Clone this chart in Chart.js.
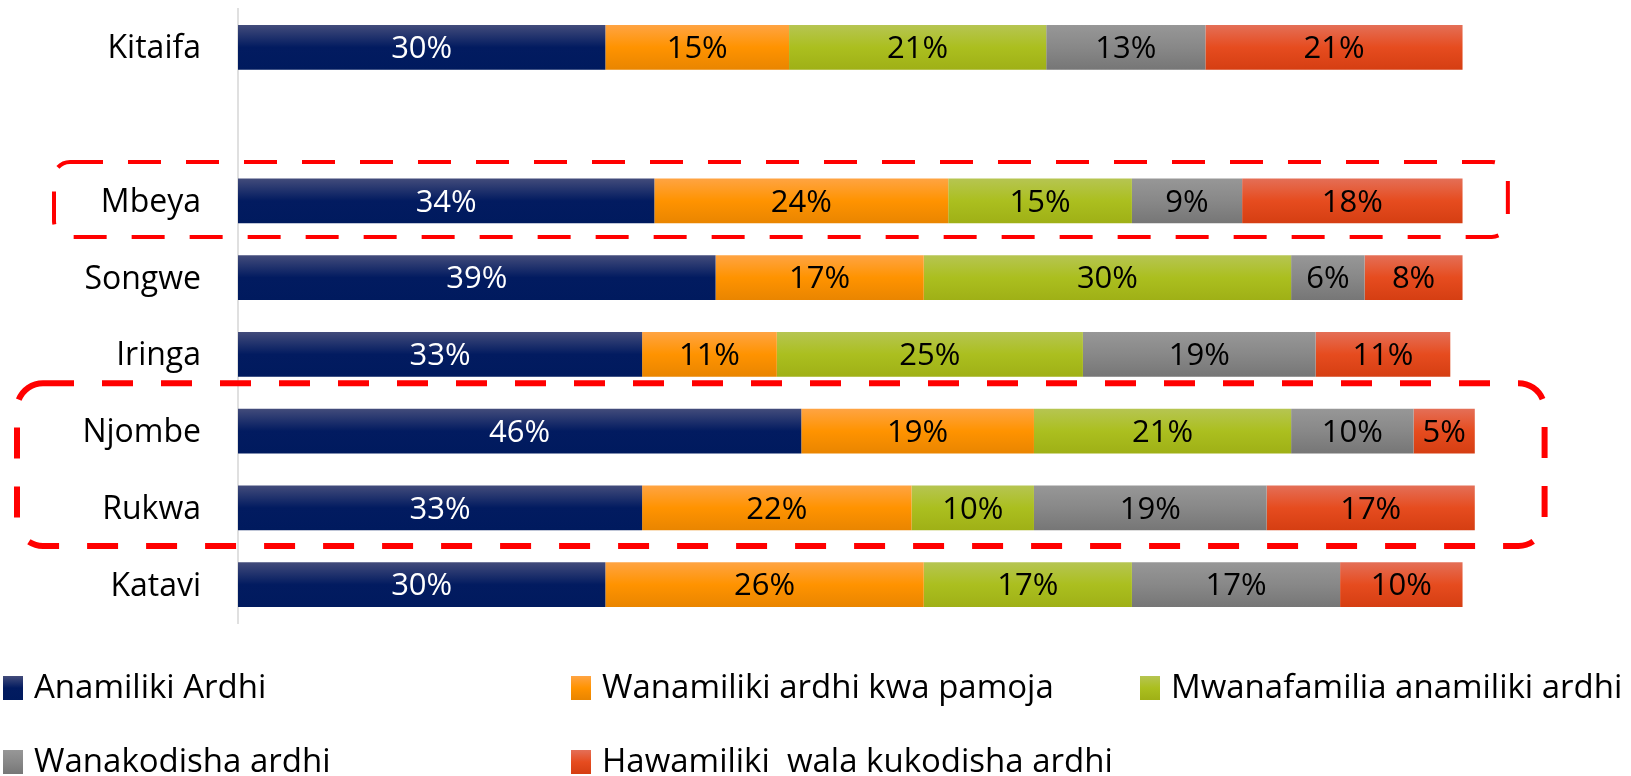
<!DOCTYPE html>
<html>
<head>
<meta charset="utf-8">
<script src="https://cdn.jsdelivr.net/npm/chart.js@4"></script>
<style>
  html, body { margin: 0; padding: 0; background: #fff; }
  #wrap { width: 1631px; height: 776px; position: relative; }
</style>
</head>
<body>
<div id="wrap"><canvas id="landChart"></canvas></div>
<script>
// Data (asilimia)
const categories = ['Kitaifa', '', 'Mbeya', 'Songwe', 'Iringa', 'Njombe', 'Rukwa', 'Katavi'];
const anamiliki    = [30, null, 34, 39, 33, 46, 33, 30];
const pamoja       = [15, null, 24, 17, 11, 19, 22, 26];
const mwanafamilia = [21, null, 15, 30, 25, 21, 10, 17];
const wanakodisha  = [13, null,  9,  6, 19, 10, 19, 17];
const hawamiliki   = [21, null, 18,  8, 11,  5, 17, 10];
const seriesNames = [
  'Anamiliki Ardhi',
  'Wanamiliki ardhi kwa pamoja',
  'Mwanafamilia anamiliki ardhi',
  'Wanakodisha ardhi',
  'Hawamiliki  wala kukodisha ardhi'
];

const fontFamily = "'Open Sans', sans-serif";
Chart.defaults.font.family = fontFamily;
Chart.defaults.color = '#000';

// gradient stops (top, middle, bottom) for each series
const gradients = [
  ['#434c7b', '#021b60', '#001a5e'],
  ['#ffa443', '#ff9300', '#e98500'],
  ['#b6c552', '#abbf1f', '#9fb016'],
  ['#979797', '#888888', '#767676'],
  ['#e46f57', '#e64c1f', '#d53e12']
];
const labelColors = ['#fff', '#000', '#000', '#000', '#000'];
const barPct = 0.586;

function barFill(stops) {
  return (ctx) => {
    const chart = ctx.chart;
    if (!chart.chartArea) return stops[1];
    const y = chart.scales.y.getPixelForValue(ctx.dataIndex);
    const half = chart.scales.y.height / categories.length * barPct / 2;
    const g = chart.ctx.createLinearGradient(0, y - half, 0, y + half);
    g.addColorStop(0, stops[0]);
    g.addColorStop(0.5, stops[1]);
    g.addColorStop(1, stops[2]);
    return g;
  };
}

const seriesData = [anamiliki, pamoja, mwanafamilia, wanakodisha, hawamiliki];

// Etiketi za asilimia ndani ya baa
const valueLabels = {
  id: 'valueLabels',
  afterDatasetsDraw(chart) {
    const c = chart.ctx;
    c.save();
    c.font = '31px ' + fontFamily;
    c.textAlign = 'center';
    c.textBaseline = 'middle';
    chart.data.datasets.forEach((ds, i) => {
      chart.getDatasetMeta(i).data.forEach((bar, j) => {
        if (ds.data[j] == null) return;
        const p = bar.getProps(['x', 'y', 'base'], true);
        c.fillStyle = labelColors[i];
        c.fillText(ds.data[j] + '%', (p.x + p.base) / 2, p.y + 2);
      });
    });
    c.restore();
  }
};

// Visanduku vyekundu vya mistari
const boxes = [
  { from: 2, to: 2, left: 54, right: 103.7, top: 39, bottom: 36, width: 4, dash: [33, 25], radius: 16 },
  { from: 5, to: 6, left: 17, right: 106.7, top: 48, bottom: 38, width: 6, dash: [31, 28], radius: 26 }
];
const dashedBoxes = {
  id: 'dashedBoxes',
  afterDraw(chart) {
    const c = chart.ctx;
    const { x, y } = chart.scales;
    c.save();
    c.strokeStyle = '#ff0000';
    boxes.forEach(b => {
      const top = y.getPixelForValue(b.from) - b.top;
      const bottom = y.getPixelForValue(b.to) + b.bottom;
      const right = x.getPixelForValue(b.right);
      c.lineWidth = b.width;
      c.setLineDash(b.dash);
      c.beginPath();
      c.roundRect(b.left, top, right - b.left, bottom - top, b.radius);
      c.stroke();
    });
    c.restore();
  }
};

// Legend ya safu tatu chini
const legendCols = [3, 571, 1140];
const legendRows = [688, 762];
const gridLegend = {
  id: 'gridLegend',
  afterDraw(chart) {
    const c = chart.ctx;
    c.save();
    c.font = '33px ' + fontFamily;
    c.textBaseline = 'middle';
    c.textAlign = 'left';
    seriesNames.forEach((name, i) => {
      const lx = legendCols[i % 3];
      const ly = legendRows[Math.floor(i / 3)];
      const g = c.createLinearGradient(0, ly - 12, 0, ly + 12);
      g.addColorStop(0, gradients[i][0]);
      g.addColorStop(0.5, gradients[i][1]);
      g.addColorStop(1, gradients[i][2]);
      c.fillStyle = g;
      c.fillRect(lx, ly - 12, 20, 24);
      c.fillStyle = '#000';
      c.fillText(name, lx + 31, ly + 1);
    });
    c.restore();
  }
};

new Chart(document.getElementById('landChart'), {
  type: 'bar',
  data: {
    labels: categories,
    datasets: seriesData.map((d, i) => ({
      label: seriesNames[i],
      data: d,
      backgroundColor: barFill(gradients[i]),
      borderWidth: 0,
      categoryPercentage: 1,
      barPercentage: barPct
    }))
  },
  options: {
    indexAxis: 'y',
    responsive: true,
    maintainAspectRatio: false,
    animation: false,
    layout: { padding: { top: 9, right: 46, bottom: 153, left: 0 } },
    plugins: {
      legend: { display: false },
      tooltip: { enabled: false }
    },
    scales: {
      x: {
        stacked: true,
        min: 0,
        max: 110,
        display: false
      },
      y: {
        stacked: true,
        grid: { display: false, drawTicks: false },
        border: { color: '#e0e0e0', width: 2 },
        ticks: { font: { size: 32 }, color: '#000', padding: 37, labelOffset: 2 },
        afterFit(scale) {
          scale.width = 238;
          scale.paddingTop = 0;
          scale.paddingBottom = 0;
        }
      }
    }
  },
  plugins: [valueLabels, dashedBoxes, gridLegend]
});
</script>
</body>
</html>
